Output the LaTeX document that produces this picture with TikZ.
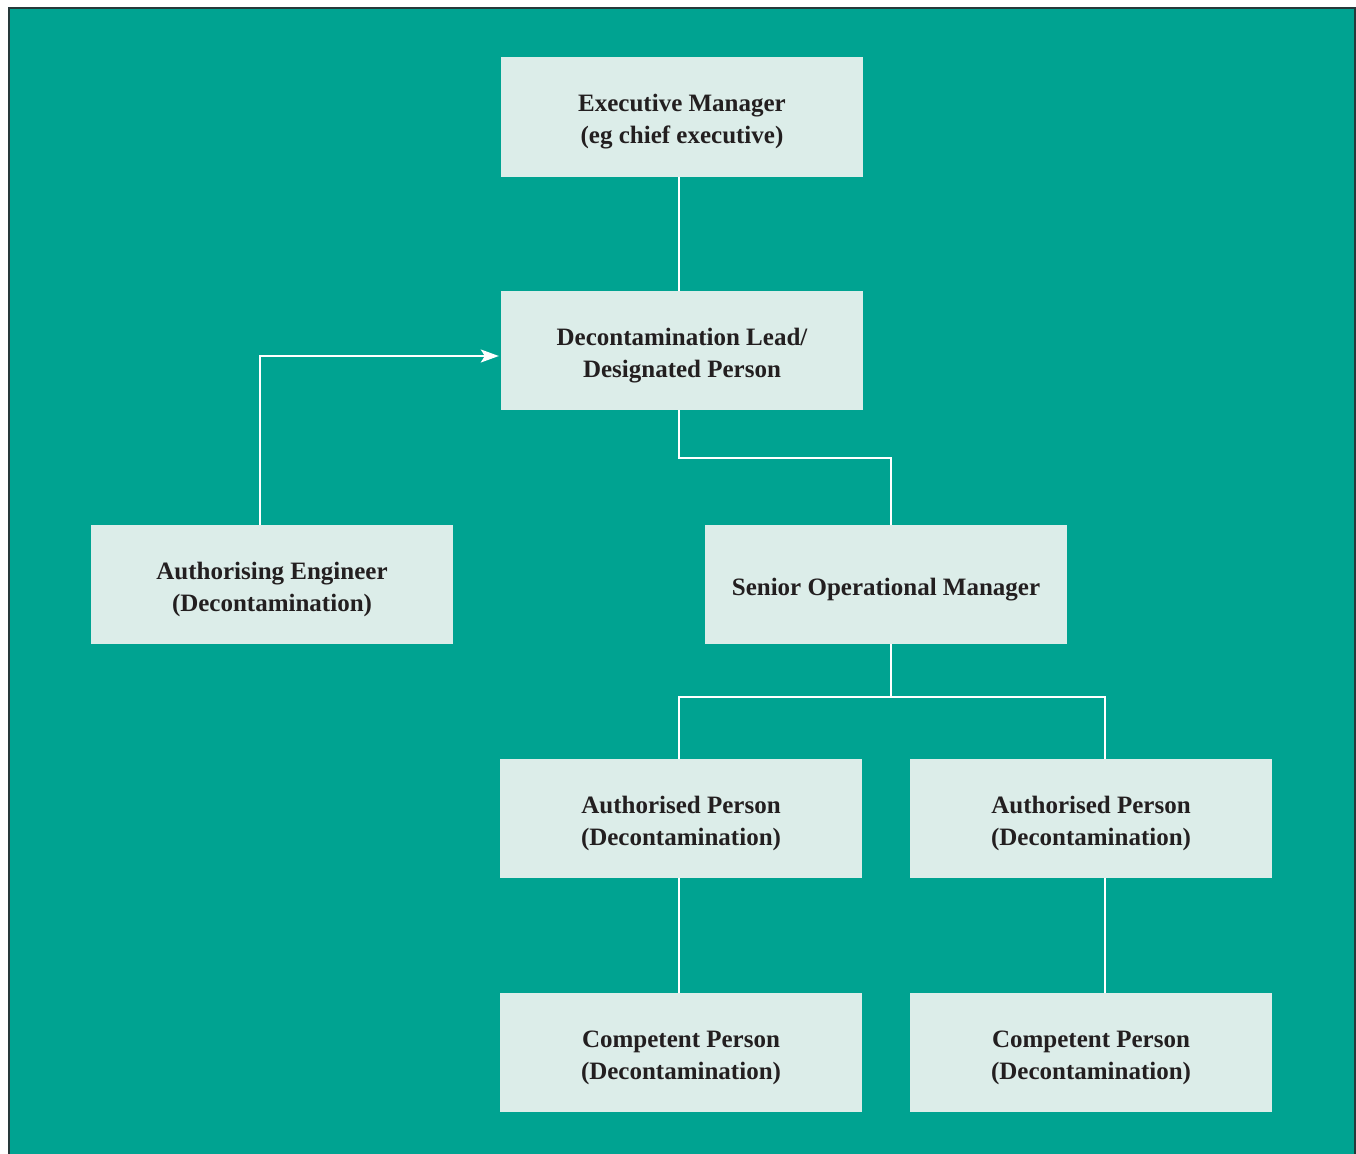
\documentclass[tikz,border=0pt]{standalone}
\usepackage{fontspec}
\setmainfont{Liberation Serif}
\usetikzlibrary{arrows.meta}
\definecolor{teal0}{HTML}{00A391}
\definecolor{boxfill}{HTML}{DCEDE9}
\definecolor{frame}{HTML}{26393A}
\definecolor{txt}{HTML}{231F20}
\tikzset{
  rolebox/.style={fill=boxfill, draw=none, minimum width=362pt, minimum height=119pt,
    inner sep=0pt},
  roletext/.style={align=center, text=txt, inner sep=0pt, yshift=-5pt,
    font=\fontsize{25}{32}\selectfont\bfseries},
  link/.style={draw=white, line width=2pt},
  linkarrow/.style={link, -{Stealth[length=18pt,width=13pt,inset=4pt]}}
}
\begin{document}
\begin{tikzpicture}[x=1pt,y=-1pt]
\useasboundingbox (0,0) rectangle (1356,1153);
\clip (0,0) rectangle (1356,1153);
\fill[white] (0,0) rectangle (1356,1153);
\draw[fill=teal0, draw=frame, line width=2pt] (9,8) rectangle (1354.5,1170);

\node[rolebox, label={[roletext]center:{Executive Manager\\(eg chief executive)}}] (exec) at (682,117) {};
\node[rolebox, label={[roletext]center:{Decontamination Lead/\\Designated Person}}] (decon) at (682,350.5) {};
\node[rolebox, label={[roletext]center:{Authorising Engineer\\(Decontamination)}}] (ae) at (272,584.5) {};
\node[rolebox, label={[roletext]center:{Senior Operational Manager}}] (som) at (886,584.5) {};
\node[rolebox, label={[roletext]center:{Authorised Person\\(Decontamination)}}] (ap1) at (681,818.5) {};
\node[rolebox, label={[roletext]center:{Authorised Person\\(Decontamination)}}] (ap2) at (1091,818.5) {};
\node[rolebox, label={[roletext]center:{Competent Person\\(Decontamination)}}] (cp1) at (681,1052.5) {};
\node[rolebox, label={[roletext]center:{Competent Person\\(Decontamination)}}] (cp2) at (1091,1052.5) {};

\coordinate (j1) at (679,458);
\coordinate (j1b) at (891,458);
\coordinate (j2) at (891,697);

\draw[link] ([xshift=-3pt]exec.south) -- ([xshift=-3pt]decon.north);
\draw[link] ([xshift=-3pt]decon.south) -- (j1) -- (j1b) -- ([xshift=5pt]som.north);
\draw[linkarrow] ([xshift=-12pt]ae.north) |- ([xshift=-2pt,yshift=-5.5pt]decon.west);
\draw[link] ([xshift=5pt]som.south) -- (j2);
\draw[link] ([xshift=-2pt]ap1.north) |- (j2) -| ([xshift=14pt]ap2.north);
\draw[link] ([xshift=-2pt]ap1.south) -- ([xshift=-2pt]cp1.north);
\draw[link] ([xshift=14pt]ap2.south) -- ([xshift=14pt]cp2.north);
\end{tikzpicture}
\end{document}
